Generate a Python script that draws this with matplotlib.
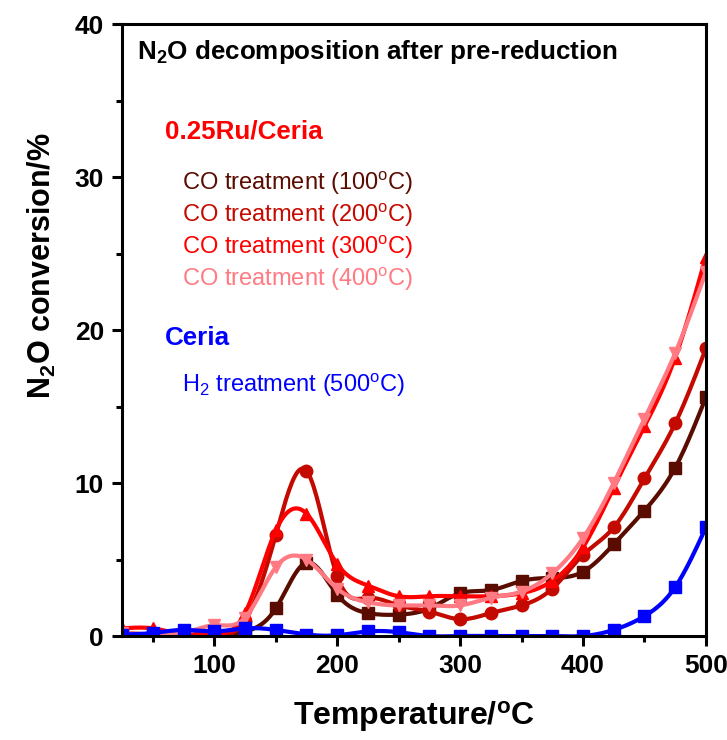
import matplotlib
matplotlib.use('Agg')
import matplotlib.pyplot as plt
import numpy as np
from matplotlib.ticker import MultipleLocator

plt.rcParams['font.family'] = ['Liberation Sans', 'DejaVu Sans']
plt.rcParams['mathtext.fontset'] = 'custom'
plt.rcParams['mathtext.rm'] = 'Liberation Sans'
plt.rcParams['mathtext.bf'] = 'Liberation Sans:bold'
plt.rcParams['mathtext.it'] = 'Liberation Sans:italic'

# --- data ---------------------------------------------------------
temp = [25, 50, 75, 100, 125, 150, 175, 200, 225, 250,
        275, 300, 325, 350, 375, 400, 425, 450, 475, 500]

co100 = [0.1, 0.1, 0.1, 0.1, 0.3, 1.8, 4.8, 2.7, 1.5, 1.4,
         1.8, 2.8, 3.0, 3.6, 3.8, 4.2, 6.0, 8.2, 11.0, 15.6]
co200 = [0.2, 0.1, 0.1, 0.1, 1.0, 6.6, 10.8, 3.9, 2.5, 2.0,
         1.6, 1.1, 1.5, 2.0, 3.1, 5.3, 7.1, 10.3, 13.9, 18.8]
co300 = [0.5, 0.5, 0.1, 0.1, 1.5, 6.9, 8.0, 4.7, 3.3, 2.6,
         2.6, 2.6, 2.6, 2.8, 3.6, 5.8, 9.7, 13.7, 18.2, 24.8]
co400 = [0.2, 0.1, 0.2, 0.7, 1.2, 4.5, 5.0, 3.1, 2.2, 2.0,
         2.0, 2.0, 2.5, 2.9, 4.1, 6.4, 10.0, 14.2, 18.5, 23.8]
h2_ceria = [0.1, 0.2, 0.4, 0.3, 0.5, 0.4, 0.1, 0.05, 0.3, 0.25,
            0.0, 0.0, 0.0, 0.0, 0.0, 0.0, 0.4, 1.3, 3.2, 7.1]

labels = ['CO treatment (100$^{\\rm o}$C)', 'CO treatment (200$^{\\rm o}$C)',
          'CO treatment (300$^{\\rm o}$C)', 'CO treatment (400$^{\\rm o}$C)']
colors = ['#5a0c00', '#c40a00', '#ff0000', '#ff7a82']
markers = ['s', 'o', '^', 'v']


def smooth(x, y, n=400):
    # natural cubic spline through the points
    x = np.asarray(x, float)
    y = np.asarray(y, float)
    h = np.diff(x)
    m = len(x)
    A = np.zeros((m, m))
    b = np.zeros(m)
    A[0, 0] = A[-1, -1] = 1
    for i in range(1, m - 1):
        A[i, i - 1] = h[i - 1]
        A[i, i] = 2 * (h[i - 1] + h[i])
        A[i, i + 1] = h[i]
        b[i] = 6 * ((y[i + 1] - y[i]) / h[i] - (y[i] - y[i - 1]) / h[i - 1])
    M = np.linalg.solve(A, b)
    xs = np.linspace(x[0], x[-1], n)
    k = np.clip(np.searchsorted(x, xs) - 1, 0, m - 2)
    t0 = x[k + 1] - xs
    t1 = xs - x[k]
    hk = h[k]
    ys = (M[k] * t0 ** 3 + M[k + 1] * t1 ** 3) / (6 * hk) \
        + (y[k] / hk - M[k] * hk / 6) * t0 + (y[k + 1] / hk - M[k + 1] * hk / 6) * t1
    return xs, ys


fig = plt.figure(figsize=(7.27, 7.40), dpi=100)
ax = fig.add_axes([0.168, 0.1405, 0.803, 0.827])

series = [co100, co200, co300, co400]
for s, c, mk in zip(series, colors, markers):
    xs, ys = smooth(temp, s)
    ax.plot(xs, ys, color=c, lw=3)
    ax.plot(temp, s, ls='none', marker=mk, color=c, ms=9)

xs, ys = smooth(temp, h2_ceria)
ax.plot(xs, ys, color='#0000ff', lw=3)
ax.plot(temp, h2_ceria, ls='none', marker='s', color='#0000ff', ms=9)

ax.set_xlim(25, 500)
ax.set_ylim(0, 40)
ax.xaxis.set_major_locator(MultipleLocator(100))
ax.xaxis.set_minor_locator(MultipleLocator(50))
ax.yaxis.set_major_locator(MultipleLocator(10))
ax.yaxis.set_minor_locator(MultipleLocator(5))
ax.tick_params(which='major', direction='out', length=7, width=2.2,
               labelsize=19, pad=6)
ax.tick_params(which='minor', direction='out', length=4.5, width=2.2)
for lab in ax.get_xticklabels() + ax.get_yticklabels():
    lab.set_fontweight('bold')
for sp in ax.spines.values():
    sp.set_linewidth(2.2)

ax.set_xlabel('Temperature/$^{\\mathbf{o}}$C', fontsize=23, fontweight='bold', labelpad=15)
ax.set_ylabel('N$_\\mathbf{2}$O conversion/%', fontsize=22, fontweight='bold')
ax.yaxis.set_label_coords(-0.11, 0.606)

ax.text(0.026, 0.954, 'N$_\\mathbf{2}$O decomposition after pre-reduction',
        transform=ax.transAxes, fontsize=18.7, fontweight='bold', va='center')
ax.text(0.074, 0.824, '0.25Ru/Ceria', transform=ax.transAxes, fontsize=18.7,
        fontweight='bold', color='#ff0000', va='center')
for i, (lab, c) in enumerate(zip(labels, colors)):
    ax.text(0.103, 0.739 - i * 0.0523, lab, transform=ax.transAxes,
            fontsize=17, color=c, va='center')
ax.text(0.074, 0.487, 'Ceria', transform=ax.transAxes, fontsize=18.7,
        fontweight='bold', color='#0000ff', va='center')
ax.text(0.103, 0.410, 'H$_2$ treatment (500$^{\\rm o}$C)', transform=ax.transAxes,
        fontsize=17, color='#0000ff', va='center')

fig.savefig('out.png', dpi=100)
